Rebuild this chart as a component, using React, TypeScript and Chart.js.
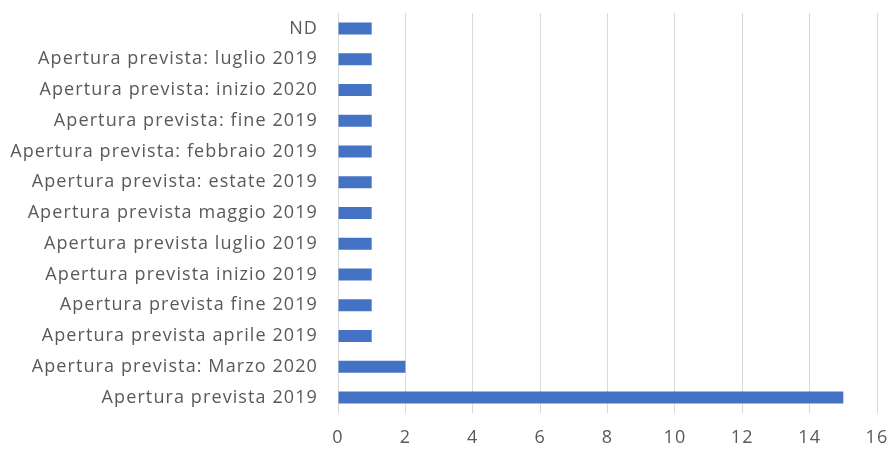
import React, { useEffect, useRef } from "react";
import { Chart, registerables } from "chart.js";

Chart.register(...registerables);

const categories: string[] = [
  "ND",
  "Apertura prevista: luglio 2019",
  "Apertura prevista: inizio 2020",
  "Apertura prevista: fine 2019",
  "Apertura prevista: febbraio 2019",
  "Apertura prevista: estate 2019",
  "Apertura prevista maggio 2019",
  "Apertura prevista luglio 2019",
  "Apertura prevista inizio 2019",
  "Apertura prevista fine 2019",
  "Apertura prevista aprile 2019",
  "Apertura prevista: Marzo 2020",
  "Apertura prevista 2019",
];

const values: number[] = [1, 1, 1, 1, 1, 1, 1, 1, 1, 1, 1, 2, 15];

const xMin = 0;
const xMax = 16;
const xStep = 2;

const spacingPlugin = {
  id: "letterSpacing",
  beforeDraw(chart: any) {
    chart.ctx.letterSpacing = "1.1px";
  },
};

export default function App() {
  const canvasRef = useRef<HTMLCanvasElement | null>(null);

  useEffect(() => {
    document.body.style.margin = "0";
    const canvas = canvasRef.current;
    if (!canvas) return;
    const font = { family: "'Open Sans', sans-serif", size: 18 };
    const zeroPad = (scale: any) => {
      scale.paddingTop = 0;
      scale.paddingBottom = 0;
      scale.paddingLeft = 0;
      scale.paddingRight = 0;
    };
    const chart = new Chart(canvas, {
      type: "bar",
      data: {
        labels: categories,
        datasets: [
          {
            data: values,
            backgroundColor: "#4472C4",
            borderWidth: 0,
            categoryPercentage: 1,
            barPercentage: 0.39,
          },
        ],
      },
      options: {
        indexAxis: "y",
        animation: false,
        responsive: false,
        maintainAspectRatio: false,
        layout: { padding: { top: 13, right: 13, bottom: 0, left: 0 } },
        plugins: {
          legend: { display: false },
          tooltip: { enabled: false },
        },
        scales: {
          x: {
            min: xMin,
            max: xMax,
            ticks: { stepSize: xStep, color: "#595959", font, padding: 14 },
            grid: { color: "#d9d9d9", drawTicks: false, lineWidth: 1 },
            border: { display: false },
            afterFit: (scale: any) => {
              scale.height = 37;
              zeroPad(scale);
            },
          },
          y: {
            ticks: { color: "#595959", font, padding: 20, autoSkip: false },
            grid: { display: false, drawTicks: false },
            border: { display: false },
            afterFit: (scale: any) => {
              scale.width = 338;
              zeroPad(scale);
            },
          },
        },
      },
      plugins: [spacingPlugin],
    });
    return () => chart.destroy();
  }, []);

  return (
    <div style={{ width: 890, height: 450 }}>
      <canvas ref={canvasRef} width={890} height={450} />
    </div>
  );
}
